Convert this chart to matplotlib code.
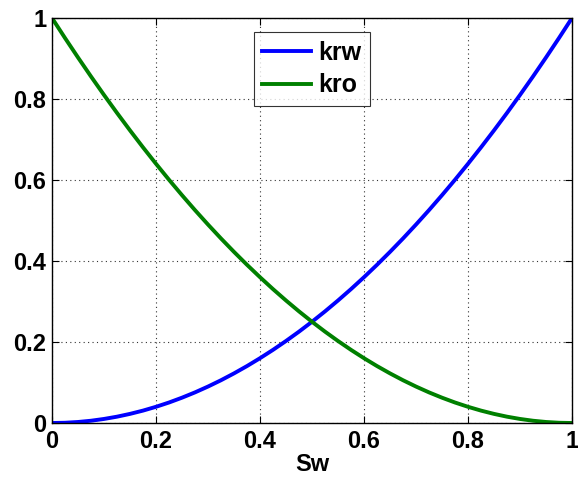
import matplotlib
matplotlib.use("Agg")
import matplotlib.pyplot as plt

# values
sw = [0.0, 0.025, 0.05, 0.075, 0.1, 0.125, 0.15, 0.175, 0.2, 0.225, 0.25,
      0.275, 0.3, 0.325, 0.35, 0.375, 0.4, 0.425, 0.45, 0.475, 0.5,
      0.525, 0.55, 0.575, 0.6, 0.625, 0.65, 0.675, 0.7, 0.725, 0.75,
      0.775, 0.8, 0.825, 0.85, 0.875, 0.9, 0.925, 0.95, 0.975, 1.0]
krw = [0.0, 0.0006, 0.0025, 0.0056, 0.01, 0.0156, 0.0225, 0.0306, 0.04, 0.0506, 0.0625,
       0.0756, 0.09, 0.1056, 0.1225, 0.1406, 0.16, 0.1806, 0.2025, 0.2256, 0.25,
       0.2756, 0.3025, 0.3306, 0.36, 0.3906, 0.4225, 0.4556, 0.49, 0.5256, 0.5625,
       0.6006, 0.64, 0.6806, 0.7225, 0.7656, 0.81, 0.8556, 0.9025, 0.9506, 1.0]
kro = [1.0, 0.9506, 0.9025, 0.8556, 0.81, 0.7656, 0.7225, 0.6806, 0.64, 0.6006, 0.5625,
       0.5256, 0.49, 0.4556, 0.4225, 0.3906, 0.36, 0.3306, 0.3025, 0.2756, 0.25,
       0.2256, 0.2025, 0.1806, 0.16, 0.1406, 0.1225, 0.1056, 0.09, 0.0756, 0.0625,
       0.0506, 0.04, 0.0306, 0.0225, 0.0156, 0.01, 0.0056, 0.0025, 0.0006, 0.0]
ticks = [0, 0.2, 0.4, 0.6, 0.8, 1]
tick_labels = ["0", "0.2", "0.4", "0.6", "0.8", "1"]

plt.rcParams["font.family"] = ["Liberation Sans", "DejaVu Sans"]
plt.rcParams["font.weight"] = "bold"

fig = plt.figure(figsize=(5.78, 4.84), dpi=100)
ax = fig.add_axes([52 / 578, 1 - 423 / 484, 520 / 578, 405 / 484])

ax.plot(sw, krw, color="#0000ff", linewidth=2.8, label="krw")
ax.plot(sw, kro, color="#008000", linewidth=2.8, label="kro")

ax.set_xlim(0, 1)
ax.set_ylim(0, 1)
ax.set_xticks(ticks)
ax.set_xticklabels(tick_labels)
ax.set_yticks(ticks)
ax.set_yticklabels(tick_labels)
ax.tick_params(direction="in", top=True, right=True, length=5, width=0.8,
               labelsize=17, pad=5)
ax.tick_params(axis="y", pad=4)
ax.grid(True, linestyle=(0, (1, 3)), color="#333333", linewidth=0.8)
for sp in ax.spines.values():
    sp.set_linewidth(1.0)
ax.set_xlabel("Sw", fontsize=17, fontweight="bold", labelpad=0)

leg = ax.legend(loc="upper center", bbox_to_anchor=(0.5, 0.966), fontsize=18,
                frameon=True, fancybox=False, edgecolor="black",
                handlelength=1.95, handletextpad=0.3, borderpad=0.35,
                labelspacing=0.35, borderaxespad=0)
leg.get_frame().set_linewidth(0.8)

fig.savefig("out.png", dpi=100)
